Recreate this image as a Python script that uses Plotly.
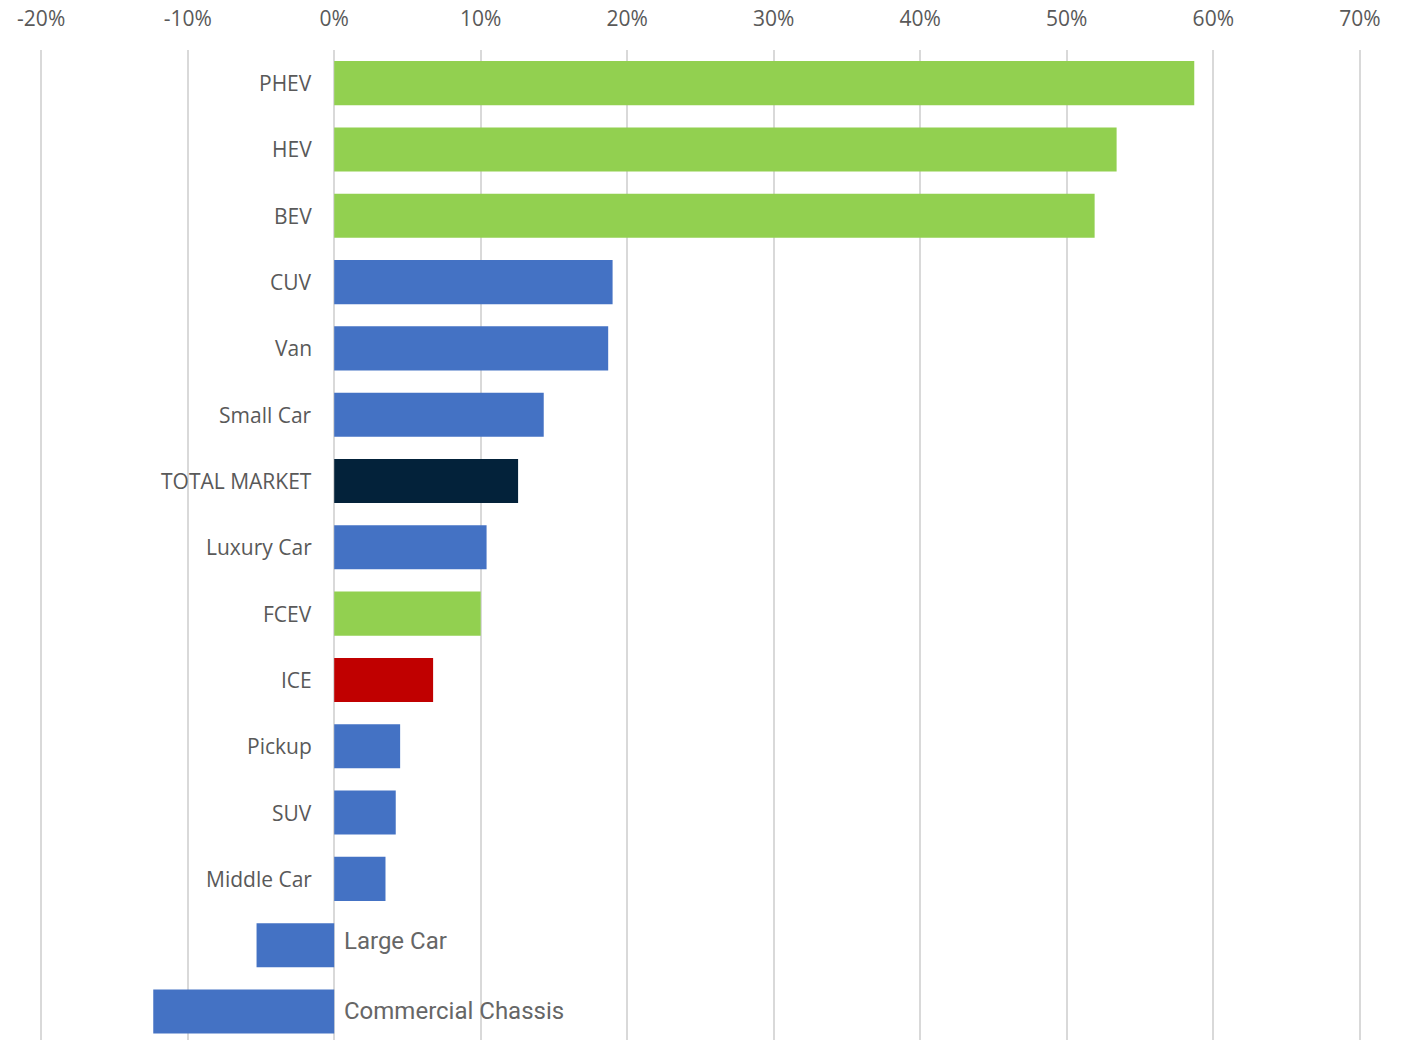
import plotly.graph_objects as go

categories = ["PHEV", "HEV", "BEV", "CUV", "Van", "Small Car", "TOTAL MARKET",
              "Luxury Car", "FCEV", "ICE", "Pickup", "SUV", "Middle Car",
              "Large Car", "Commercial Chassis"]
growth = [0.587, 0.534, 0.519, 0.190, 0.187, 0.143, 0.1255,
          0.104, 0.100, 0.0675, 0.045, 0.042, 0.035, -0.053, -0.1235]
groups = ["power", "power", "power", "body", "body", "body", "total",
          "body", "power", "ice", "body", "body", "body", "body", "body"]
tick_values = [-0.2, -0.1, 0, 0.1, 0.2, 0.3, 0.4, 0.5, 0.6, 0.7]
tick_labels = ["-20%", "-10%", "0%", "10%", "20%", "30%", "40%", "50%", "60%", "70%"]

palette = {"power": "#92D050", "body": "#4472C4", "total": "#03223A", "ice": "#C00000"}
colors = [palette[g] for g in groups]

fig = go.Figure(go.Bar(
    x=growth, y=categories, orientation="h",
    marker=dict(color=colors, line=dict(width=0)),
    hoverinfo="skip",
))

# Category labels sit beside the zero line, on the side away from the bar
for cat, v in zip(categories, growth):
    if v >= 0:
        fig.add_annotation(x=0, y=cat, text=cat, showarrow=False,
                           xanchor="right", xshift=-20,
                           font=dict(family="Open Sans", size=21, color="#595959"))
    else:
        fig.add_annotation(x=0, y=cat, text=cat, showarrow=False,
                           xanchor="left", xshift=8,
                           yshift=4 if cat == "Large Car" else 0,
                           font=dict(family="Roboto", size=24, color="#666666"))

fig.update_layout(
    width=1409, height=1040,
    margin=dict(l=40, r=48, t=50, b=0),
    plot_bgcolor="white", paper_bgcolor="white",
    bargap=0.335,
    showlegend=False,
    xaxis=dict(
        side="top", range=[-0.2008, 0.7008],
        tickvals=tick_values, ticktext=tick_labels,
        showgrid=True, gridcolor="#D9D9D9", gridwidth=1.5,
        zeroline=True, zerolinecolor="#D9D9D9", zerolinewidth=1.5,
        tickfont=dict(family="Open Sans", size=21, color="#595959"),
        ticks="", ticklabelstandoff=19,
        showline=False, fixedrange=True,
    ),
    yaxis=dict(
        categoryorder="array", categoryarray=categories,
        range=[14.43, -0.5],
        showticklabels=False, showgrid=False, zeroline=False, ticks="",
        fixedrange=True,
    ),
)

fig.write_html("out.html")
